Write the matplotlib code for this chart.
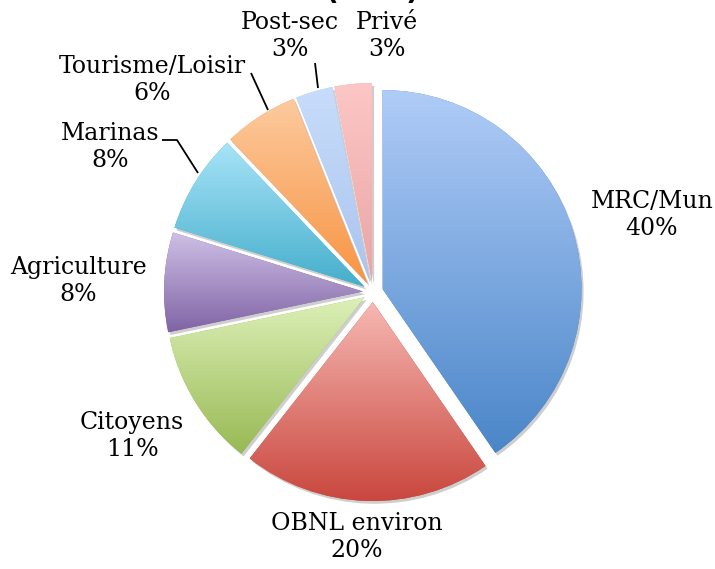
import matplotlib
matplotlib.use('Agg')
import matplotlib.pyplot as plt
import numpy as np
import matplotlib.patheffects as pe
from matplotlib.colors import to_rgb

categories = ["MRC/Mun", "OBNL environ", "Citoyens", "Agriculture", "Marinas",
              "Tourisme/Loisir", "Post-sec", "Privé"]
values = [40, 20, 11, 8, 8, 6, 3, 3]
top_colors = ["#B0CCF7", "#F7B8B3", "#DDF0B8", "#CFC0E6", "#A8E4F8", "#FDCA9E", "#C8DDFB", "#FCC7C6"]
bottom_colors = ["#4A86C8", "#C9473E", "#98B954", "#8064A5", "#45AECB", "#F79443", "#AAC4EE", "#E9A5A5"]

W, H = 715, 569
fig = plt.figure(figsize=(W / 100, H / 100), dpi=100)
ax = fig.add_axes([0, 0, 1, 1])

cx, cy, r = 373, H - 292, 199
explode = [10] * len(values)  # absolute offset in data units (pixels)
wedges, _ = ax.pie(values, startangle=90, counterclock=False, center=(cx, cy),
                   radius=r, explode=explode, frame=True,
                   colors=bottom_colors, wedgeprops=dict(linewidth=0))

for w, ct, cb in zip(wedges, top_colors, bottom_colors):
    w.set_path_effects([pe.SimplePatchShadow(offset=(1.5, -2), shadow_rgbFace='0.45', alpha=0.35),
                        pe.Normal()])
    ext = w.get_path().get_extents()
    t = np.linspace(0, 1, 256)[:, None]
    c1 = np.array(to_rgb(ct)); c2 = np.array(to_rgb(cb))
    grad = (c1[None, :] * (1 - t) + c2[None, :] * t)[:, None, :]
    im = ax.imshow(grad, extent=(ext.x0, ext.x1, ext.y0, ext.y1), origin='upper',
                   aspect='auto', zorder=2, interpolation='bilinear')
    im.set_clip_path(w)

ax.set_xlim(0, W)
ax.set_ylim(0, H)
ax.set_aspect('equal')
ax.axis('off')

label_pos = {
    "MRC/Mun": (652, 215),
    "OBNL environ": (357, 537),
    "Citoyens": (132, 436),
    "Agriculture": (78, 281),
    "Marinas": (110, 147),
    "Tourisme/Loisir": (152, 80),
    "Post-sec": (290, 36),
    "Privé": (387, 36),
}
for cat, v in zip(categories, values):
    x, y = label_pos[cat]
    ax.text(x, H - y, f"{cat}\n{v}%", ha='center', va='center', fontsize=17,
            family='DejaVu Serif', linespacing=1.25, zorder=5)

# leader lines
leaders = [
    [(315, 63), (318, 88)],
    [(251, 73), (268, 110)],
    [(162, 140), (177, 140), (198, 173)],
]
for pts in leaders:
    xs = [p[0] for p in pts]
    ys = [H - p[1] for p in pts]
    ax.plot(xs, ys, color='black', lw=1.3, zorder=4, solid_capstyle='butt')

# partially cropped title (only bottoms of parentheses visible)
ax.text(372, H + 0.5, "(       )", ha='center', va='baseline', fontsize=20,
        fontweight='bold', family='DejaVu Sans', clip_on=False)

fig.savefig("out.png", dpi=100)
